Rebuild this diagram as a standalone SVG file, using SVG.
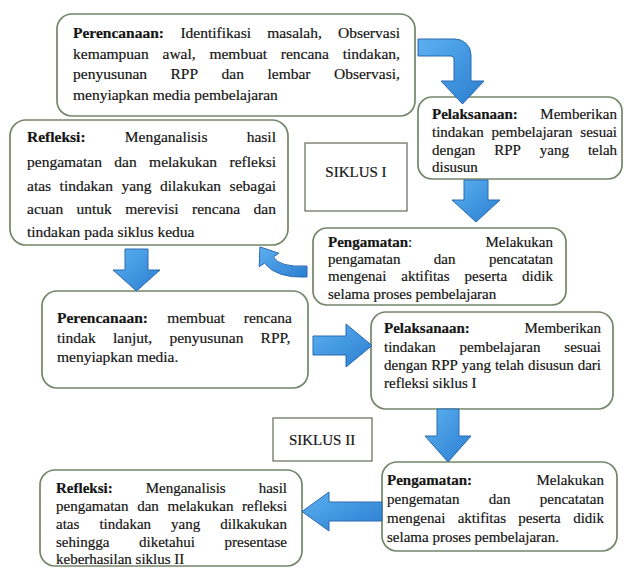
<svg xmlns="http://www.w3.org/2000/svg" width="626" height="569" viewBox="0 0 626 569">
<defs>
<linearGradient id="blue" x1="0" y1="0" x2="1" y2="1">
<stop offset="0" stop-color="#5cb0f0"/><stop offset="1" stop-color="#2a7ed0"/>
</linearGradient>
<style>
.box{fill:#fff;stroke:#74856a;stroke-width:1.7}
.sq{fill:#fff;stroke:#5f6a58;stroke-width:1.2}
.arr{fill:url(#blue);stroke:#2a6ab0;stroke-width:1}
text{font-family:"Liberation Serif","Times New Roman",serif;fill:#151515;stroke:#151515;stroke-width:0.2}
.f15{font-size:15px}
.f155{font-size:15.5px}
.b{font-weight:bold}
</style>
</defs>
<rect width="626" height="569" fill="#fff"/>

<g id="perencanaan1">
<rect class="box" x="57" y="14" width="358" height="102" rx="15"/>
<text class="f155" y="38"><tspan x="73" class="b">Perencanaan:</tspan><tspan x="180.4">Identifikasi</tspan><tspan x="267.2">masalah,</tspan><tspan x="338">Observasi</tspan></text>
<text class="f155" y="58.5"><tspan x="73">kemampuan</tspan><tspan x="162.5">awal,</tspan><tspan x="209.4">membuat</tspan><tspan x="280.8">rencana</tspan><tspan x="342.7">tindakan,</tspan></text>
<text class="f155" y="79"><tspan x="73">penyusunan</tspan><tspan x="170.5">RPP</tspan><tspan x="221.6">dan</tspan><tspan x="267.5">lembar</tspan><tspan x="334">Observasi,</tspan></text>
<text class="f155" y="99.5" x="73">menyiapkan media pembelajaran</text>
</g>

<g id="pelaksanaan1">
<rect class="box" x="418" y="97" width="204" height="82" rx="14"/>
<text class="f15" y="119"><tspan x="432" class="b">Pelaksanaan:</tspan><tspan x="540.3">Memberikan</tspan></text>
<text class="f15" y="137"><tspan x="432">tindakan</tspan><tspan x="491.6">pembelajaran</tspan><tspan x="580.3">sesuai</tspan></text>
<text class="f15" y="154.5"><tspan x="432">dengan</tspan><tspan x="494.2">RPP</tspan><tspan x="539.8">yang</tspan><tspan x="587.9">telah</tspan></text>
<text class="f15" y="172" x="432">disusun</text>
</g>

<g id="siklus1">
<rect class="sq" x="305" y="143" width="102" height="68"/>
<text class="f15" x="356" y="177" text-anchor="middle">SIKLUS I</text>
</g>

<g id="refleksi1">
<rect class="box" x="10" y="120" width="278" height="125" rx="16"/>
<text class="f155" y="142"><tspan x="27" class="b">Refleksi:</tspan><tspan x="124.8">Menganalisis</tspan><tspan x="246.7">hasil</tspan></text>
<text class="f155" y="166.5"><tspan x="27">pengamatan</tspan><tspan x="114.3">dan</tspan><tspan x="149.1">melakukan</tspan><tspan x="229.5">refleksi</tspan></text>
<text class="f155" y="191"><tspan x="27">atas</tspan><tspan x="59.6">tindakan</tspan><tspan x="121.4">yang</tspan><tspan x="160">dilakukan</tspan><tspan x="229.6">sebagai</tspan></text>
<text class="f155" y="214"><tspan x="27">acuan</tspan><tspan x="76.5">untuk</tspan><tspan x="125.2">merevisi</tspan><tspan x="192">rencana</tspan><tspan x="253.6">dan</tspan></text>
<text class="f155" y="237" x="27">tindakan pada siklus kedua</text>
</g>

<g id="pengamatan1">
<rect class="box" x="313" y="228" width="253" height="77" rx="14"/>
<text class="f15" y="247"><tspan x="328" class="b">Pengamatan</tspan><tspan>:</tspan><tspan x="485.5">Melakukan</tspan></text>
<text class="f15" y="264"><tspan x="328">pengamatan</tspan><tspan x="433.8">dan</tspan><tspan x="488.9">pencatatan</tspan></text>
<text class="f15" y="281"><tspan x="328">mengenai</tspan><tspan x="401.3">aktifitas</tspan><tspan x="464.6">peserta</tspan><tspan x="522.1">didik</tspan></text>
<text class="f15" y="299" x="328">selama proses pembelajaran</text>
</g>

<g id="perencanaan2">
<rect class="box" x="42" y="291" width="266" height="97" rx="15"/>
<text class="f155" y="323"><tspan x="57" class="b">Perencanaan:</tspan><tspan x="167.2">membuat</tspan><tspan x="243.8">rencana</tspan></text>
<text class="f155" y="342.5"><tspan x="57">tindak</tspan><tspan x="113">lanjut,</tspan><tspan x="169.4">penyusunan</tspan><tspan x="260.6">RPP,</tspan></text>
<text class="f155" y="362" x="57">menyiapkan media.</text>
</g>

<g id="pelaksanaan2">
<rect class="box" x="371" y="312" width="242" height="97" rx="15"/>
<text class="f15" y="333"><tspan x="384" class="b">Pelaksanaan:</tspan><tspan x="524.4">Memberikan</tspan></text>
<text class="f15" y="351.5"><tspan x="384">tindakan</tspan><tspan x="459.6">pembelajaran</tspan><tspan x="564.3">sesuai</tspan></text>
<text class="f15" y="370"><tspan x="384">dengan</tspan><tspan x="431.2">RPP</tspan><tspan x="461.8">yang</tspan><tspan x="494.9">telah</tspan><tspan x="528">disusun</tspan><tspan x="577.7">dari</tspan></text>
<text class="f15" y="388" x="384">refleksi siklus I</text>
</g>

<g id="siklus2">
<rect class="sq" x="273" y="418" width="99" height="43"/>
<text class="f15" x="322" y="445" text-anchor="middle">SIKLUS II</text>
</g>

<g id="pengamatan2">
<rect class="box" x="382" y="462" width="235" height="89" rx="15"/>
<text class="f15" y="485"><tspan x="387" class="b">Pengamatan:</tspan><tspan x="536.5">Melakukan</tspan></text>
<text class="f15" y="504"><tspan x="387">pengematan</tspan><tspan x="488.8">dan</tspan><tspan x="539.8">pencatatan</tspan></text>
<text class="f15" y="523"><tspan x="387">mengenai</tspan><tspan x="457.7">aktifitas</tspan><tspan x="518.3">peserta</tspan><tspan x="573.2">didik</tspan></text>
<text class="f15" y="542" x="387">selama proses pembelajaran.</text>
</g>

<g id="refleksi2">
<rect class="box" x="40" y="470" width="262" height="96" rx="15"/>
<text class="f15" y="492.5"><tspan x="56" class="b">Refleksi:</tspan><tspan x="145.7">Menganalisis</tspan><tspan x="258.7">hasil</tspan></text>
<text class="f15" y="510.5"><tspan x="56">pengamatan</tspan><tspan x="137.2">dan</tspan><tspan x="167.6">melakukan</tspan><tspan x="242.1">refleksi</tspan></text>
<text class="f15" y="528.5"><tspan x="56">atas</tspan><tspan x="99.4">tindakan</tspan><tspan x="171.1">yang</tspan><tspan x="220.3">dilkakukan</tspan></text>
<text class="f15" y="546.5"><tspan x="56">sehingga</tspan><tspan x="139">diketahui</tspan><tspan x="224.5">presentase</tspan></text>
<text class="f15" y="563.5" x="56">keberhasilan siklus II</text>
</g>

<g id="connectors">
<path class="arr" d="M418,39 H455 A16,16 0 0 1 471,55 V81 H484 L462.5,104 L441,81 H454 V59 A3,3 0 0 0 451,56 H418 Z"/>
<path class="arr" d="M464,180 H488 V200 H500 L476,222 L452,200 H464 Z"/>
<path class="arr" d="M307,266 Q279,267.5 273.5,256.9 L278.8,253.2 L259.9,246.9 L259.2,266.8 L264.5,263.1 Q276,278.5 307,277 Z"/>
<path class="arr" d="M125,249 H148 V270 H160 L136.5,291 L113,270 H125 Z"/>
<path class="arr" d="M313,336 H346 V324 L372,345.5 L346,367 V355 H313 Z"/>
<path class="arr" d="M437,409 H459 V436 H471 L448,462 L425,436 H437 Z"/>
<path class="arr" d="M382,502 V521 H329 V531 L302,511.5 L329,492 V502 Z"/>
</g>
</svg>
